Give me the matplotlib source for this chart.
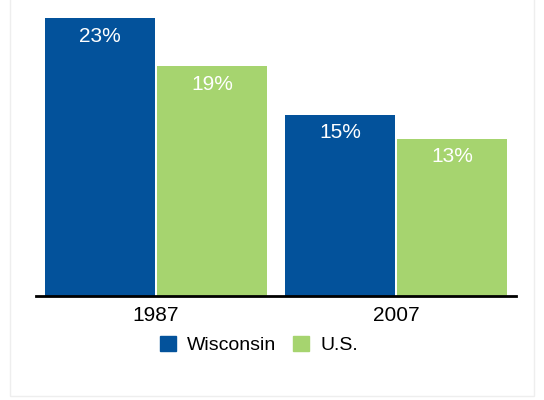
import matplotlib
matplotlib.use("Agg")
import matplotlib.pyplot as plt
from matplotlib.patches import Rectangle, Patch
import numpy as np

plt.rcParams['font.family'] = ['Liberation Sans Narrow', 'Liberation Sans', 'DejaVu Sans']

years = ["1987", "2007"]
wisconsin = [23, 15]
us = [19, 13]
series_names = ["Wisconsin", "U.S."]

BLUE = "#03529b"
GREEN = "#a6d46f"

fig = plt.figure(figsize=(5.44, 4.0), dpi=100)
frame = Rectangle((10 / 544, 4 / 400), 524 / 544, 400 / 400,
                  transform=fig.transFigure, facecolor="white",
                  edgecolor="#eeeeee", linewidth=1, zorder=-10)
fig.add_artist(frame)

ax = fig.add_axes([36 / 544, 1 - 296 / 400, 480 / 544, 278 / 400])
x = np.arange(len(years))
w = 110 / 240
off = 56 / 240
b1 = ax.bar(x - off, wisconsin, width=w, color=BLUE, label=series_names[0])
b2 = ax.bar(x + off, us, width=w, color=GREEN, label=series_names[1])

for bars, vals in ((b1, wisconsin), (b2, us)):
    for rect, v in zip(bars, vals):
        ax.annotate(f"{v}%", (rect.get_x() + rect.get_width() / 2, v),
                    xytext=(0, -13), textcoords="offset points",
                    ha="center", va="center", color="white", fontsize=15)

ax.set_xlim(-0.5, 1.5)
ax.set_ylim(0, 23)
ax.set_xticks(x)
ax.set_xticklabels(years, fontsize=15)
ax.tick_params(axis="x", length=0, pad=7)
ax.set_yticks([])
for s in ("top", "right", "left"):
    ax.spines[s].set_visible(False)
ax.spines["bottom"].set_linewidth(2)
ax.spines["bottom"].set_color("black")
ax.patch.set_alpha(0)

handles = [Patch(color=BLUE), Patch(color=GREEN)]
fig.legend(handles, series_names, loc="center", bbox_to_anchor=(259 / 544, 1 - 345 / 400),
           ncol=2, frameon=False, fontsize=14, handlelength=0.82, handleheight=0.82,
           handletextpad=0.57, columnspacing=0.88)

fig.savefig("out.png", dpi=100)
